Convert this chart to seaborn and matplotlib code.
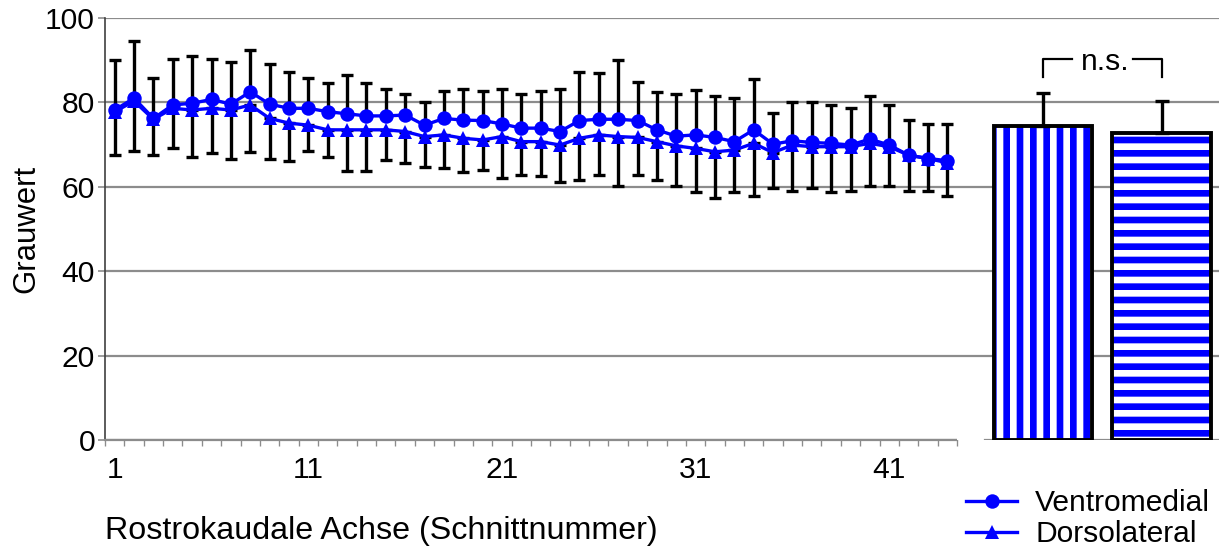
import matplotlib
matplotlib.use("Agg")
import matplotlib.pyplot as plt
from matplotlib.lines import Line2D
import numpy as np
import pandas as pd
import seaborn as sns

# section numbers along the rostro-caudal axis
schnitt = list(range(1, 45))

ventromedial = [78.2, 81.0, 76.2, 79.4, 79.8, 80.7, 79.6, 82.5, 79.6, 78.6,
                78.6, 77.8, 77.3, 76.8, 76.8, 77.0, 74.6, 76.2, 75.8, 75.7,
                74.9, 73.9, 73.9, 73.1, 75.7, 76.0, 76.0, 75.7, 73.5, 72.0,
                72.3, 71.7, 70.7, 73.5, 70.1, 70.9, 70.5, 70.3, 69.9, 71.3,
                69.9, 67.5, 66.7, 66.2]
dorsolateral = [77.8, 80.3, 76.0, 78.6, 78.2, 78.6, 78.2, 79.4, 76.2, 75.1,
                74.6, 73.5, 73.5, 73.5, 73.5, 73.1, 71.9, 72.3, 71.5, 71.1,
                71.9, 70.7, 70.7, 69.9, 71.5, 72.3, 71.9, 71.7, 70.7, 69.7,
                69.1, 68.3, 68.7, 70.3, 68.1, 69.9, 69.5, 69.5, 69.5, 70.3,
                69.5, 67.5, 66.7, 65.7]
# upper whisker end (ventromedial) and lower whisker end (dorsolateral)
ventro_upper = [90.0, 94.5, 85.9, 90.4, 91.0, 90.2, 89.6, 92.3, 89.1, 87.1,
                85.9, 84.5, 86.5, 84.7, 83.1, 82.0, 80.2, 82.7, 83.2, 82.7,
                83.2, 82.0, 82.7, 83.2, 87.1, 86.9, 90.0, 84.9, 82.4, 81.9,
                82.9, 81.4, 81.0, 85.5, 77.6, 80.2, 80.2, 79.4, 78.6, 81.4,
                79.4, 75.8, 74.9, 74.9]
dorso_lower = [67.5, 68.6, 67.5, 69.1, 67.1, 67.9, 66.5, 68.3, 66.6, 66.2,
               68.6, 67.1, 63.8, 63.8, 66.3, 65.7, 64.8, 64.4, 63.4, 64.0,
               62.2, 62.8, 62.6, 61.1, 61.6, 62.8, 60.3, 62.8, 61.6, 60.3,
               58.7, 57.3, 58.7, 57.9, 59.6, 59.1, 59.6, 58.7, 59.1, 60.3,
               60.3, 59.1, 59.1, 57.9]

regionen = ["Ventromedial", "Dorsolateral"]
mittelwert = [74.5, 72.7]
sd = [7.8, 7.6]

xticks = [1, 11, 21, 31, 41]
yticks = [0, 20, 40, 60, 80, 100]

BLUE = "#0000ff"
GRID = "#8c8c8c"

plt.rcParams['font.family'] = ['Liberation Sans', 'DejaVu Sans']
plt.rcParams['hatch.linewidth'] = 6

DPI = 80
fig = plt.figure(figsize=(1219 / DPI, 549 / DPI), dpi=DPI)
ax1 = fig.add_axes([105 / 1219, 1 - 440 / 549, 852 / 1219, 422 / 549])
ax2 = fig.add_axes([957 / 1219, 1 - 440 / 549, 262 / 1219, 422 / 549])

# ---- left: profile along the axis
df = pd.DataFrame({
    "Schnitt": schnitt * 2,
    "Grauwert": ventromedial + dorsolateral,
    "Region": ["Ventromedial"] * len(schnitt) + ["Dorsolateral"] * len(schnitt),
})

up = np.array(ventro_upper) - np.array(ventromedial)
lo = np.array(dorsolateral) - np.array(dorso_lower)
ax1.errorbar(schnitt, ventromedial, yerr=[np.zeros_like(up), up], fmt='none',
             ecolor='black', elinewidth=3, capsize=5.5, capthick=3, zorder=2)
ax1.errorbar(schnitt, dorsolateral, yerr=[lo, np.zeros_like(lo)], fmt='none',
             ecolor='black', elinewidth=3, capsize=5.5, capthick=3, zorder=2)

sns.lineplot(data=df, x="Schnitt", y="Grauwert", style="Region",
             markers={"Ventromedial": "o", "Dorsolateral": "^"}, dashes=False,
             color=BLUE, lw=3, markersize=13, markeredgewidth=0,
             legend=False, ax=ax1, zorder=3)

ax1.set_xlim(0.5, 44.5)
ax1.set_ylim(0, 100)
ax1.set_yticks(yticks)
ax1.set_xticks(xticks)
ax1.set_xticks(np.arange(0.5, 45, 1), minor=True)
ax1.tick_params(axis='x', which='major', length=0, pad=14, labelsize=27)
ax1.tick_params(axis='x', which='minor', length=5, width=1.2, color=GRID)
ax1.tick_params(axis='y', length=6, width=1.5, color=GRID, pad=3, labelsize=27)
ax1.yaxis.grid(True, color=GRID, lw=2)
ax1.set_axisbelow(True)
for s in ["top", "right"]:
    ax1.spines[s].set_visible(False)
ax1.spines["left"].set_color("#404040")
ax1.spines["left"].set_linewidth(1.5)
ax1.spines["bottom"].set_color(GRID)
ax1.spines["bottom"].set_linewidth(2)
ax1.set_ylabel("Grauwert", fontsize=28, labelpad=3)
ax1.set_xlabel("Rostrokaudale Achse (Schnittnummer)", fontsize=29, loc='left', labelpad=29)

# ---- right: overall means
sns.barplot(x=regionen, y=mittelwert, width=0.83, ax=ax2, color='white')
for p, h in zip(ax2.patches, ['|', '-']):
    p.set_facecolor('white')
    p.set_edgecolor(BLUE)
    p.set_hatch(h)
    p.set_linewidth(0)
ax2.bar([0, 1], mittelwert, width=0.83, fill=False, edgecolor='black', lw=3.5, zorder=3)
ax2.errorbar([0, 1], mittelwert, yerr=[[0, 0], sd], fmt='none', ecolor='black',
             elinewidth=3, capsize=6.5, capthick=3, zorder=4)

ax2.set_xlim(-0.726, 1.485)
ax2.set_ylim(0, 100)
ax2.set_yticks(yticks[1:])
ax2.yaxis.grid(True, color=GRID, lw=2)
ax2.axhline(0, xmin=0.107, xmax=1, color=GRID, lw=2, zorder=1)
ax2.set_axisbelow(True)
ax2.tick_params(left=False, bottom=False, labelleft=False, labelbottom=False)
for s in ax2.spines.values():
    s.set_visible(False)
ax2.set_xlabel("")
ax2.set_ylabel("")

# n.s. bracket
ax2.plot([0, 0, 0.245], [86.1, 90.2, 90.2], color='black', lw=2)
ax2.plot([0.76, 1, 1], [90.2, 90.2, 86.1], color='black', lw=2)
ax2.text(0.523, 89.6, "n.s.", ha='center', va='center', fontsize=27)

handles = [Line2D([], [], color=BLUE, lw=3, marker='o', markersize=13, markeredgewidth=0),
           Line2D([], [], color=BLUE, lw=3, marker='^', markersize=13, markeredgewidth=0)]
fig.legend(handles, regionen, loc='upper left', bbox_to_anchor=(966 / 1219, 1 - 489 / 549),
           frameon=False, fontsize=27, handlelength=1.7, handletextpad=0.6,
           labelspacing=0.1, borderpad=0, borderaxespad=0)

plt.savefig("out.png", dpi=DPI)
